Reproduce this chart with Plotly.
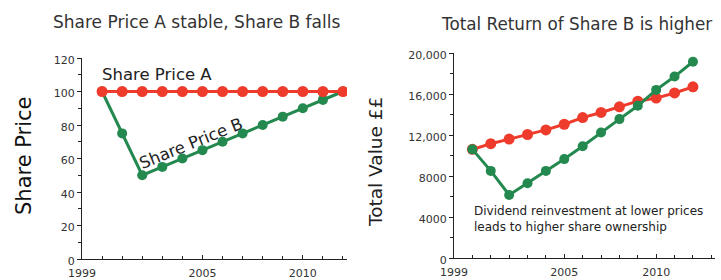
import plotly.graph_objects as go

W, H = 721, 280

# ---------------- data ----------------
years = [2000, 2001, 2002, 2003, 2004, 2005, 2006, 2007, 2008, 2009, 2010, 2011, 2012]
price_a = [100, 100, 100, 100, 100, 100, 100, 100, 100, 100, 100, 100, 100]
price_b = [100, 75, 50, 55, 60, 65, 70, 75, 80, 85, 90, 95, 100]
value_a = [10600, 11150, 11600, 12050, 12500, 13050, 13700, 14200, 14750, 15300, 15600, 16100, 16700]
value_b = [10600, 8500, 6150, 7300, 8500, 9650, 10900, 12250, 13550, 14850, 16400, 17700, 19150]

x_tickvals = [1999, 2005, 2010]
x_ticktext = ["1999", "2005", "2010"]
left_y_tickvals = [0, 20, 40, 60, 80, 100, 120]
left_y_ticktext = ["0", "20", "40", "60", "80", "100", "120"]
right_y_tickvals = [0, 4000, 8000, 12000, 16000, 20000]
right_y_ticktext = ["0", "4000", "8000", "12,000", "16,000", "20,000"]

title_left = "Share Price A stable, Share B falls"
title_right = "Total Return of Share B is higher"
ytitle_left = "Share Price"
ytitle_right = "Total Value ££"
label_a = "Share Price A"
label_b = "Share Price B"
note_right = "Dividend reinvestment at lower prices<br>leads to higher share ownership"

RED = "#EF3B2C"
GREEN = "#23894F"
FONT = "DejaVu Sans"


def px(x):
    return x / W


def py(y):
    return 1 - y / H


fig = go.Figure()

fig.add_trace(go.Scatter(x=years, y=price_b, mode="lines+markers", xaxis="x", yaxis="y",
                         line=dict(color=GREEN, width=3), marker=dict(color=GREEN, size=10),
                         showlegend=False))
fig.add_trace(go.Scatter(x=years, y=price_a, mode="lines+markers", xaxis="x", yaxis="y",
                         line=dict(color=RED, width=3), marker=dict(color=RED, size=11),
                         showlegend=False))
fig.add_trace(go.Scatter(x=years, y=value_a, mode="lines+markers", xaxis="x2", yaxis="y2",
                         line=dict(color=RED, width=3), marker=dict(color=RED, size=11),
                         showlegend=False))
fig.add_trace(go.Scatter(x=years, y=value_b, mode="lines+markers", xaxis="x2", yaxis="y2",
                         line=dict(color=GREEN, width=3), marker=dict(color=GREEN, size=10),
                         showlegend=False))

axis_common = dict(showgrid=False, zeroline=False, showline=True, linecolor="#222",
                   linewidth=1, tickfont=dict(family=FONT, size=11, color="#333"),
                   tickcolor="#222", automargin=False)

fig.update_layout(
    width=W, height=H,
    margin=dict(l=0, r=0, t=0, b=0, autoexpand=False),
    paper_bgcolor="white", plot_bgcolor="white",
    font=dict(family=FONT),
    xaxis=dict(domain=[px(82), px(347)], range=[1999, 2012.2], anchor="y",
               tickvals=x_tickvals, ticktext=x_ticktext, ticks="inside", ticklen=4,
               ticklabelstandoff=4,
               minor=dict(dtick=1, tick0=1999, ticks="inside", ticklen=3, tickcolor="#222"),
               **axis_common),
    yaxis=dict(domain=[py(259), py(58)], range=[0, 120], anchor="x",
               tickvals=left_y_tickvals, ticktext=left_y_ticktext, ticks="outside", ticklen=4,
               ticklabelshift=2,
               minor=dict(dtick=10, tick0=0, ticks="outside", ticklen=3, tickcolor="#222"),
               **axis_common),
    xaxis2=dict(domain=[px(454), px(715)], range=[1999, 2013.2], anchor="y2",
                tickvals=x_tickvals, ticktext=x_ticktext, ticks="inside", ticklen=4,
                ticklabelstandoff=4,
                minor=dict(dtick=1, tick0=1999, ticks="inside", ticklen=3, tickcolor="#222"),
                **axis_common),
    yaxis2=dict(domain=[py(258), py(53)], range=[0, 20000], anchor="x2",
                tickvals=right_y_tickvals, ticktext=right_y_ticktext, ticks="outside", ticklen=4,
                ticklabelshift=2,
                minor=dict(dtick=2000, tick0=0, ticks="outside", ticklen=3, tickcolor="#222"),
                **axis_common),
)

ann = [
    dict(text=title_left, x=px(196), y=py(22), size=17, color="#333"),
    dict(text=title_right, x=px(576), y=py(24), size=16.8, color="#333"),
    dict(text=ytitle_left, x=px(24), y=py(156), size=21, color="#111", angle=-90),
    dict(text=ytitle_right, x=px(375), y=py(162), size=18.5, color="#222", angle=-90),
    dict(text=label_a, x=px(157), y=py(75), size=16.5, color="#222"),
    dict(text=label_b, x=px(191), y=py(143), size=16.5, color="#222", angle=-22),
]
for a in ann:
    fig.add_annotation(text=a["text"], x=a["x"], y=a["y"], xref="paper", yref="paper",
                       showarrow=False, textangle=a.get("angle", 0),
                       font=dict(family=FONT, size=a["size"], color=a["color"]),
                       xanchor="center", yanchor="middle")

fig.add_annotation(text=note_right, x=px(472), y=py(219), xref="paper", yref="paper",
                   showarrow=False, align="left", xanchor="left", yanchor="middle",
                   font=dict(family=FONT, size=12, color="#222"))

fig.write_html("out.html", config={"displayModeBar": False},
               post_script="document.body.style.margin='0';document.body.style.overflow='hidden';")
